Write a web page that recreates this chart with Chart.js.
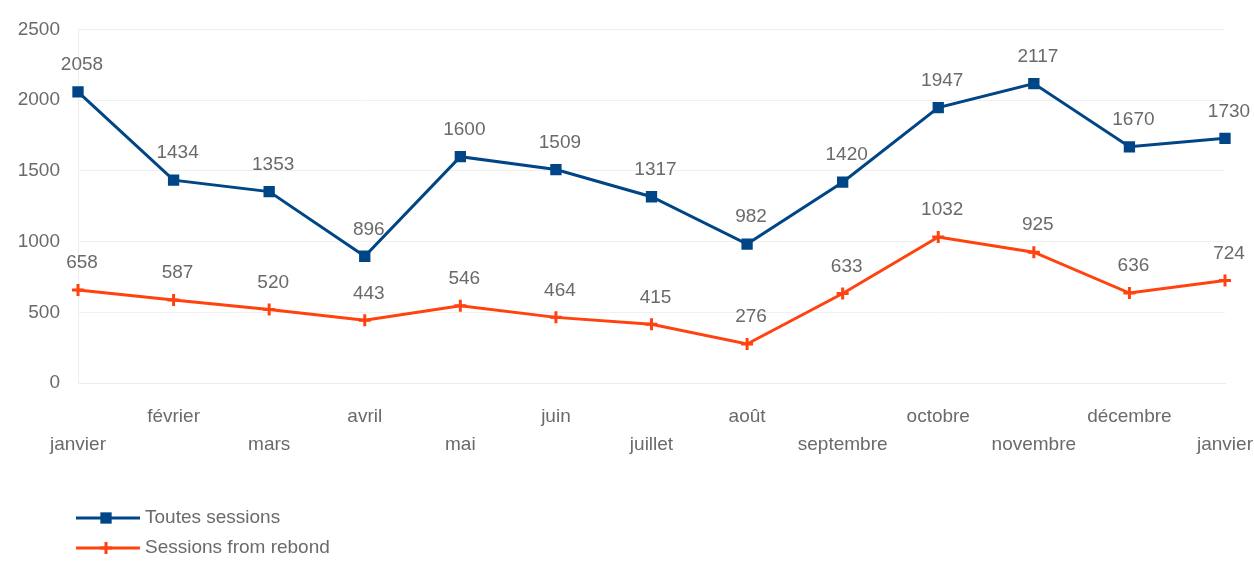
<!DOCTYPE html>
<html>
<head>
<meta charset="utf-8">
<script src="https://cdn.jsdelivr.net/npm/chart.js@4"></script>
<style>
  html, body { margin: 0; padding: 0; background: #fff; }
  #wrap { width: 1254px; height: 562px; }
</style>
</head>
<body>
<div id="wrap"><canvas id="lineChart" width="1254" height="562"></canvas></div>
<script>
const months = ["janvier", "février", "mars", "avril", "mai", "juin", "juillet",
  "août", "septembre", "octobre", "novembre", "décembre", "janvier"];
const allSessions = [2058, 1434, 1353, 896, 1600, 1509, 1317, 982, 1420, 1947, 2117, 1670, 1730];
const reboundSessions = [658, 587, 520, 443, 546, 464, 415, 276, 633, 1032, 925, 636, 724];
const seriesNames = ["Toutes sessions", "Sessions from rebond"];
const yTicks = [0, 500, 1000, 1500, 2000, 2500];

const FONT = "'Liberation Sans', Arial, sans-serif";
const TEXT = "#6a6a6a";

// value labels above each point
const valueLabels = {
  id: "valueLabels",
  afterDatasetsDraw(chart) {
    const ctx = chart.ctx;
    ctx.save();
    ctx.font = "19px " + FONT;
    ctx.fillStyle = TEXT;
    ctx.textAlign = "center";
    ctx.textBaseline = "middle";
    chart.data.datasets.forEach((ds, i) => {
      chart.getDatasetMeta(i).data.forEach((pt, j) => {
        ctx.fillText(String(ds.data[j]), pt.x + 4, pt.y - 27);
      });
    });
    ctx.restore();
  }
};

// vertical legend at bottom left
const stackedLegend = {
  id: "stackedLegend",
  afterDraw(chart) {
    const ctx = chart.ctx;
    ctx.save();
    chart.data.datasets.forEach((ds, i) => {
      const y = 518 + i * 30;
      ctx.strokeStyle = ds.borderColor;
      ctx.fillStyle = ds.backgroundColor;
      ctx.lineWidth = 3;
      ctx.beginPath();
      ctx.moveTo(76, y);
      ctx.lineTo(140, y);
      ctx.stroke();
      Chart.helpers.drawPoint(ctx, {
        pointStyle: ds.pointStyle, radius: ds.pointRadius, borderWidth: ds.pointBorderWidth
      }, 106, y);
      ctx.fillStyle = TEXT;
      ctx.font = "19px " + FONT;
      ctx.textAlign = "left";
      ctx.textBaseline = "middle";
      ctx.fillText(ds.label, 145, y);
    });
    ctx.restore();
  }
};

new Chart(document.getElementById("lineChart"), {
  type: "line",
  data: {
    labels: months,
    datasets: [
      {
        label: seriesNames[0],
        data: allSessions,
        borderColor: "#004586",
        backgroundColor: "#004586",
        borderWidth: 3,
        pointStyle: "rect",
        pointRadius: 8,
        pointBorderWidth: 0,
        tension: 0
      },
      {
        label: seriesNames[1],
        data: reboundSessions,
        borderColor: "#ff420e",
        backgroundColor: "#ff420e",
        borderWidth: 3,
        pointStyle: "cross",
        pointRadius: 6,
        pointBorderWidth: 3,
        tension: 0
      }
    ]
  },
  options: {
    responsive: false,
    animation: false,
    layout: { padding: { left: 0, right: 0, top: 17, bottom: 99 } },
    plugins: {
      legend: { display: false },
      tooltip: { enabled: false }
    },
    scales: {
      x: {
        grid: { display: false },
        border: { color: "#ececec" },
        afterFit(scale) {
          scale.height = 80;
          scale.paddingLeft = 0;
          scale.paddingRight = 29;
        },
        ticks: {
          autoSkip: false,
          maxRotation: 0,
          padding: 12,
          color: TEXT,
          font: { family: FONT, size: 19, lineHeight: 1.47 },
          callback(v, i) {
            return i % 2 === 1 ? [months[i]] : ["", months[i]];
          }
        }
      },
      y: {
        min: 0,
        max: 2500,
        afterBuildTicks(scale) { scale.ticks = yTicks.map(v => ({ value: v })); },
        afterFit(scale) { scale.width = 78; },
        grid: { color: "#f0f0f0", drawTicks: false },
        border: { color: "#ececec" },
        ticks: {
          padding: 18,
          color: TEXT,
          font: { family: FONT, size: 19 },
          callback: v => String(v)
        }
      }
    }
  },
  plugins: [valueLabels, stackedLegend]
});
</script>
</body>
</html>
